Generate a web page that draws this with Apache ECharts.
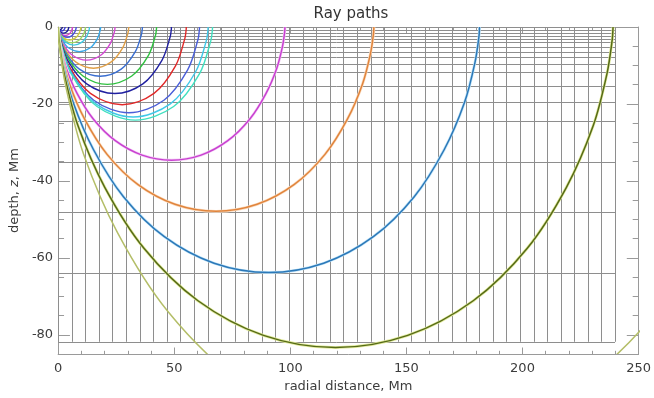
<!DOCTYPE html>
<html>
<head>
<meta charset="utf-8">
<script src="https://cdn.jsdelivr.net/npm/echarts@6/dist/echarts.min.js"></script>
<style>
html, body { margin: 0; padding: 0; background: #ffffff; }
#chart { width: 654px; height: 398px; }
</style>
</head>
<body>
<div id="chart"></div>
<script>
// Axis ticks
const xMajorTicks = [0, 50, 100, 150, 200, 250];
const yMajorTicks = [-80, -60, -40, -20, 0];

// Computational mesh: radial columns (Mm) and depth levels (Mm)
const meshX = [0, 5.85, 11.7, 17.55, 23.4, 29.25, 35.1, 40.95, 46.8, 52.65, 58.5, 64.35,
  70.2, 76.05, 81.9, 87.75, 93.6, 99.45, 105.3, 111.15, 117, 122.85, 128.7, 134.55,
  140.4, 146.25, 152.1, 157.95, 163.8, 169.65, 175.5, 181.35, 187.2, 193.05, 198.9,
  204.75, 210.6, 216.45, 222.3, 228.15, 234, 239.85];
const meshZ = [0, -0.8, -1.5, -2.3, -3.2, -4.0, -5.1, -6.4, -7.8, -9.5, -11.8, -15.4,
  -19.4, -24.3, -35.0, -48.0, -63.8, -81.8];

// Ray paths: [radial distance (Mm), depth z (Mm)]
const ray01 = [[0,0],[0.02,-0.095],[0.15,-0.325],[0.45,-0.555],[0.9,-0.65],[1.35,-0.555],[1.65,-0.325],[1.78,-0.095],[1.8,0]];
const ray02 = [[0,0],[0.033,-0.15],[0.25,-0.525],[0.76,-0.9],[1.5,-1.05],[2.24,-0.9],[2.75,-0.525],[2.97,-0.15],[3.0,0]];
const ray03 = [[0,0],[0.05,-0.23],[0.39,-0.8],[1.16,-1.37],[2.3,-1.6],[3.44,-1.37],[4.21,-0.8],[4.55,-0.23],[4.6,0]];
const ray04 = [[0,0],[0.068,-0.32],[0.52,-1.1],[1.56,-1.88],[3.1,-2.2],[4.64,-1.88],[5.68,-1.1],[6.13,-0.32],[6.2,0]];
const ray05 = [[0,0],[0.086,-0.39],[0.66,-1.35],[1.97,-2.31],[3.9,-2.7],[5.83,-2.31],[7.14,-1.35],[7.71,-0.39],[7.8,0]];
const ray06 = [[0,0],[0.11,-0.5],[0.82,-1.7],[2.47,-2.9],[4.9,-3.4],[7.33,-2.9],[8.98,-1.7],[9.69,-0.5],[9.8,0]];
const ray07 = [[0,0],[0.017,-0.16],[0.13,-0.6],[0.99,-2.05],[2.97,-3.5],[5.9,-4.1],[8.83,-3.5],[10.81,-2.05],[11.67,-0.6],[11.78,-0.16],[11.8,0]];
const ray08 = [[0,0],[0.019,-0.18],[0.15,-0.69],[1.13,-2.35],[3.4,-4.01],[6.75,-4.7],[10.1,-4.01],[12.37,-2.35],[13.35,-0.69],[13.48,-0.18],[13.5,0]];
const ray09 = [[0,0],[0.026,-0.24],[0.2,-0.93],[1.54,-3.2],[4.61,-5.47],[9.15,-6.4],[13.69,-5.47],[16.76,-3.2],[18.1,-0.93],[18.27,-0.24],[18.3,0]];
const ray10 = [[0,0],[0.034,-0.33],[0.27,-1.26],[2.06,-4.3],[6.17,-7.34],[12.25,-8.6],[18.33,-7.34],[22.44,-4.3],[24.23,-1.26],[24.47,-0.33],[24.5,0]];
const ray11 = [[0,0],[0.043,-0.41],[0.33,-1.56],[2.55,-5.35],[7.66,-9.14],[15.2,-10.7],[22.74,-9.14],[27.85,-5.35],[30.07,-1.56],[30.36,-0.41],[30.4,0]];
const ray12 = [[0,0],[0.051,-0.49],[0.4,-1.87],[3.05,-6.4],[9.15,-10.93],[18.15,-12.8],[27.15,-10.93],[33.25,-6.4],[35.9,-1.87],[36.25,-0.49],[36.3,0]];
const ray13 = [[0,0],[0.059,-0.57],[0.47,-2.18],[3.56,-7.45],[10.68,-12.72],[21.2,-14.9],[31.72,-12.72],[38.84,-7.45],[41.93,-2.18],[42.34,-0.57],[42.4,0]];
const ray14 = [[0,0],[0.068,-0.66],[0.54,-2.53],[4.1,-8.65],[12.3,-14.77],[24.4,-17.3],[36.5,-14.77],[44.7,-8.65],[48.26,-2.53],[48.73,-0.66],[48.8,0]];
const ray15 = [[0,0],[0.077,-0.77],[0.61,-2.95],[4.64,-10.1],[13.91,-17.25],[27.6,-20.2],[41.29,-17.25],[50.56,-10.1],[54.59,-2.95],[55.12,-0.77],[55.2,0]];
const ray16 = [[0,0],[0.085,-0.85],[0.67,-3.26],[5.12,-11.15],[15.35,-19.04],[30.45,-22.3],[45.55,-19.04],[55.78,-11.15],[60.23,-3.26],[60.81,-0.85],[60.9,0]];
const ray17 = [[0,0],[0.09,-0.89],[0.71,-3.42],[5.43,-11.7],[16.28,-19.98],[32.3,-23.4],[48.32,-19.98],[59.17,-11.7],[63.89,-3.42],[64.51,-0.89],[64.6,0]];
const ray18 = [[0,0],[0.093,-0.92],[0.73,-3.53],[5.59,-12.1],[16.76,-20.67],[33.25,-24.2],[49.74,-20.67],[60.91,-12.1],[65.77,-3.53],[66.41,-0.92],[66.5,0]];
const ray19 = [[0,0],[0.14,-1.31],[1.07,-5.05],[3.52,-10.69],[8.21,-17.3],[15.14,-23.91],[24.62,-29.55],[36.15,-33.29],[48.85,-34.6],[61.55,-33.29],[73.08,-29.55],[82.56,-23.91],[89.49,-17.3],[94.18,-10.69],[96.63,-5.05],[97.56,-1.31],[97.7,0]];
const ray20 = [[0,0],[0.19,-1.82],[1.5,-6.99],[4.9,-14.8],[11.42,-23.95],[21.08,-33.1],[34.27,-40.91],[50.32,-46.08],[68,-47.9],[85.68,-46.08],[101.73,-40.91],[114.92,-33.1],[124.58,-23.95],[131.1,-14.8],[134.5,-6.99],[135.81,-1.82],[136,0]];
const ray21 = [[0,0],[0.25,-2.42],[2.0,-9.31],[6.53,-19.71],[15.25,-31.9],[28.13,-44.09],[45.74,-54.49],[67.16,-61.38],[90.75,-63.8],[114.35,-61.38],[135.76,-54.49],[153.37,-44.09],[166.25,-31.9],[174.97,-19.71],[179.5,-9.31],[181.25,-2.42],[181.5,0]];
const ray22 = [[0,0],[0.33,-3.17],[2.63,-12.16],[8.6,-25.74],[20.08,-41.65],[37.05,-57.56],[60.23,-71.14],[88.43,-80.13],[119.5,-83.3],[150.57,-80.13],[178.77,-71.14],[201.96,-57.56],[218.92,-41.65],[230.4,-25.74],[236.37,-12.16],[238.67,-3.17],[239,0]];
const ray23 = [[0,0],[0.43,-4.07],[3.36,-15.62],[10.98,-33.06],[25.62,-53.5],[47.28,-73.94],[76.86,-91.38],[112.85,-102.93],[152.5,-107],[192.15,-102.93],[228.14,-91.38],[257.73,-73.94],[279.38,-53.5],[294.02,-33.06],[301.65,-15.62],[304.57,-4.07],[305,0]];

const rays = [ray01, ray02, ray03, ray04, ray05, ray06, ray07, ray08, ray09, ray10, ray11, ray12,
  ray13, ray14, ray15, ray16, ray17, ray18, ray19, ray20, ray21, ray22, ray23];
const rayColors = ['#1c1c8c', '#3a3ad8', '#1a1a9a', '#d040d0', '#4a50e0', '#d0cc40', '#9cd860',
  '#40c8e0', '#3aa8e8', '#d448d4', '#e0a048', '#3a6ed0', '#30c040', '#2020a0', '#e02828',
  '#4a5ed8', '#40c8e8', '#40e0c0', '#c840d0', '#e0843c', '#2c78b8', '#556a18', '#b4be68'];
// Soft companion strokes drawn under the long rays
const rayHalos = {18: '#f4cff6', 19: '#fbdcc0', 20: '#bfe4f8', 21: '#e2ea9a'};

const FONT = 'DejaVu Sans';
const frameColor = '#9a9a9a';
const meshColor = '#8e8e8e';
const textColor = '#3c3c3c';

const chart = echarts.init(document.getElementById('chart'), null, { renderer: 'canvas' });

const meshRight = meshX[meshX.length - 1];
const meshBottom = meshZ[meshZ.length - 1];

function crisp(v) { return Math.round(v) + 0.5; }

const meshColumns = {
  type: 'custom',
  coordinateSystem: 'cartesian2d',
  silent: true,
  z: 1,
  data: meshX.map(v => [v, 0]),
  renderItem: (params, api) => {
    const x = api.value(0);
    const a = api.coord([x, 0]);
    const b = api.coord([x, meshBottom]);
    return {
      type: 'line',
      shape: { x1: crisp(a[0]), y1: a[1], x2: crisp(b[0]), y2: b[1] },
      style: { stroke: meshColor, lineWidth: 1 }
    };
  }
};

const meshLevels = {
  type: 'custom',
  coordinateSystem: 'cartesian2d',
  silent: true,
  z: 1,
  data: meshZ.map(v => [0, v]),
  renderItem: (params, api) => {
    const z = api.value(1);
    const a = api.coord([0, z]);
    const b = api.coord([meshRight, z]);
    return {
      type: 'line',
      shape: { x1: a[0], y1: crisp(a[1]), x2: b[0], y2: crisp(b[1]) },
      style: { stroke: meshColor, lineWidth: 1 }
    };
  }
};

// Smooth path through the projected points: cubic segments whose control
// handles follow the neighbouring chord, scaled by the adjacent segment lengths.
function smoothPath(pts) {
  const n = pts.length;
  let d = 'M' + pts[0][0] + ' ' + pts[0][1];
  const handles = pts.map((p, i) => {
    const prev = pts[Math.max(i - 1, 0)];
    const next = pts[Math.min(i + 1, n - 1)];
    const vx = next[0] - prev[0], vy = next[1] - prev[1];
    const lp = Math.hypot(p[0] - prev[0], p[1] - prev[1]);
    const ln = Math.hypot(next[0] - p[0], next[1] - p[1]);
    const tot = lp + ln || 1;
    const k = 1 / 3;
    return {
      inX: p[0] - vx * k * lp / tot, inY: p[1] - vy * k * lp / tot,
      outX: p[0] + vx * k * ln / tot, outY: p[1] + vy * k * ln / tot
    };
  });
  for (let i = 0; i < n - 1; i++) {
    const a = handles[i], b = handles[i + 1], q = pts[i + 1];
    d += ' C' + a.outX + ' ' + a.outY + ' ' + b.inX + ' ' + b.inY + ' ' + q[0] + ' ' + q[1];
  }
  return d;
}

const raySeries = rays.map((pts, idx) => ({
  type: 'custom',
  coordinateSystem: 'cartesian2d',
  silent: true,
  clip: true,
  z: 3,
  data: pts,
  renderItem: (params, api) => {
    if (params.dataIndexInside !== 0) return null;
    const projected = [];
    for (let i = 0; i < params.dataInsideLength; i++) {
      projected.push(api.coord([api.value(0, i), api.value(1, i)]));
    }
    const pathData = smoothPath(projected);
    const children = [];
    if (rayHalos[idx]) {
      children.push({
        type: 'path',
        shape: { pathData },
        style: { fill: 'none', stroke: rayHalos[idx], lineWidth: 2.8 }
      });
    }
    children.push({
      type: 'path',
      shape: { pathData },
      style: { fill: 'none', stroke: rayColors[idx], lineWidth: pts.length > 11 ? 1.5 : 1.4 }
    });
    return { type: 'group', children };
  }
}));

const labelStyle = { color: textColor, fontFamily: FONT, fontSize: 13 };

const option = {
  backgroundColor: '#ffffff',
  animation: false,
  title: {
    text: 'Ray paths',
    left: 351,
    top: 7,
    padding: 0,
    textAlign: 'center',
    textStyle: { fontFamily: FONT, fontSize: 15, fontWeight: 'normal', color: '#333333' }
  },
  grid: { left: 57, right: 9, top: 27, bottom: 40 },
  xAxis: [
    {
      type: 'value', position: 'bottom', min: 0, max: 250, interval: 50,
      axisLine: { show: true, onZero: false, lineStyle: { color: frameColor, width: 1 } },
      axisTick: { show: true, inside: true, length: 6.6, lineStyle: { color: frameColor } },
      minorTick: { show: true, splitNumber: 5, length: 3.3, lineStyle: { color: frameColor } },
      splitLine: { show: false },
      axisLabel: Object.assign({ margin: 8, customValues: xMajorTicks }, labelStyle),
      name: 'radial distance, Mm', nameLocation: 'middle', nameGap: 22,
      nameTextStyle: { color: textColor, fontFamily: FONT, fontSize: 13 }
    },
    {
      type: 'value', position: 'top', min: 0, max: 250, interval: 50,
      axisLine: { show: true, onZero: false, lineStyle: { color: frameColor, width: 1 } },
      axisTick: { show: true, inside: true, length: 6.6, lineStyle: { color: frameColor } },
      minorTick: { show: true, splitNumber: 5, length: 3.3, lineStyle: { color: frameColor } },
      splitLine: { show: false },
      axisLabel: { show: false }
    }
  ],
  yAxis: [
    {
      type: 'value', position: 'left', min: -85, max: 0,
      axisLine: { show: true, onZero: false, lineStyle: { color: frameColor, width: 1 } },
      axisTick: { show: true, inside: true, length: 11.8, customValues: yMajorTicks, lineStyle: { color: frameColor } },
      splitLine: { show: false },
      axisLabel: Object.assign({ margin: 5, customValues: yMajorTicks }, labelStyle),
      name: 'depth, {i|z}, Mm', nameLocation: 'middle', nameGap: 31,
      nameTextStyle: {
        color: textColor, fontFamily: FONT, fontSize: 13,
        rich: { i: { fontStyle: 'italic', color: textColor, fontFamily: FONT, fontSize: 13 } }
      }
    },
    {
      type: 'value', position: 'left', min: -85, max: 0, interval: 5,
      axisLine: { show: false, onZero: false },
      axisTick: { show: true, inside: true, length: 5.9, lineStyle: { color: frameColor } },
      splitLine: { show: false },
      axisLabel: { show: false }
    },
    {
      type: 'value', position: 'right', min: -85, max: 0,
      axisLine: { show: true, onZero: false, lineStyle: { color: frameColor, width: 1 } },
      axisTick: { show: true, inside: true, length: 11.8, customValues: yMajorTicks, lineStyle: { color: frameColor } },
      splitLine: { show: false },
      axisLabel: { show: false }
    },
    {
      type: 'value', position: 'right', min: -85, max: 0, interval: 5,
      axisLine: { show: false, onZero: false },
      axisTick: { show: true, inside: true, length: 5.9, lineStyle: { color: frameColor } },
      splitLine: { show: false },
      axisLabel: { show: false }
    }
  ],
  series: [meshColumns, meshLevels].concat(raySeries)
};

chart.setOption(option);
</script>
</body>
</html>
